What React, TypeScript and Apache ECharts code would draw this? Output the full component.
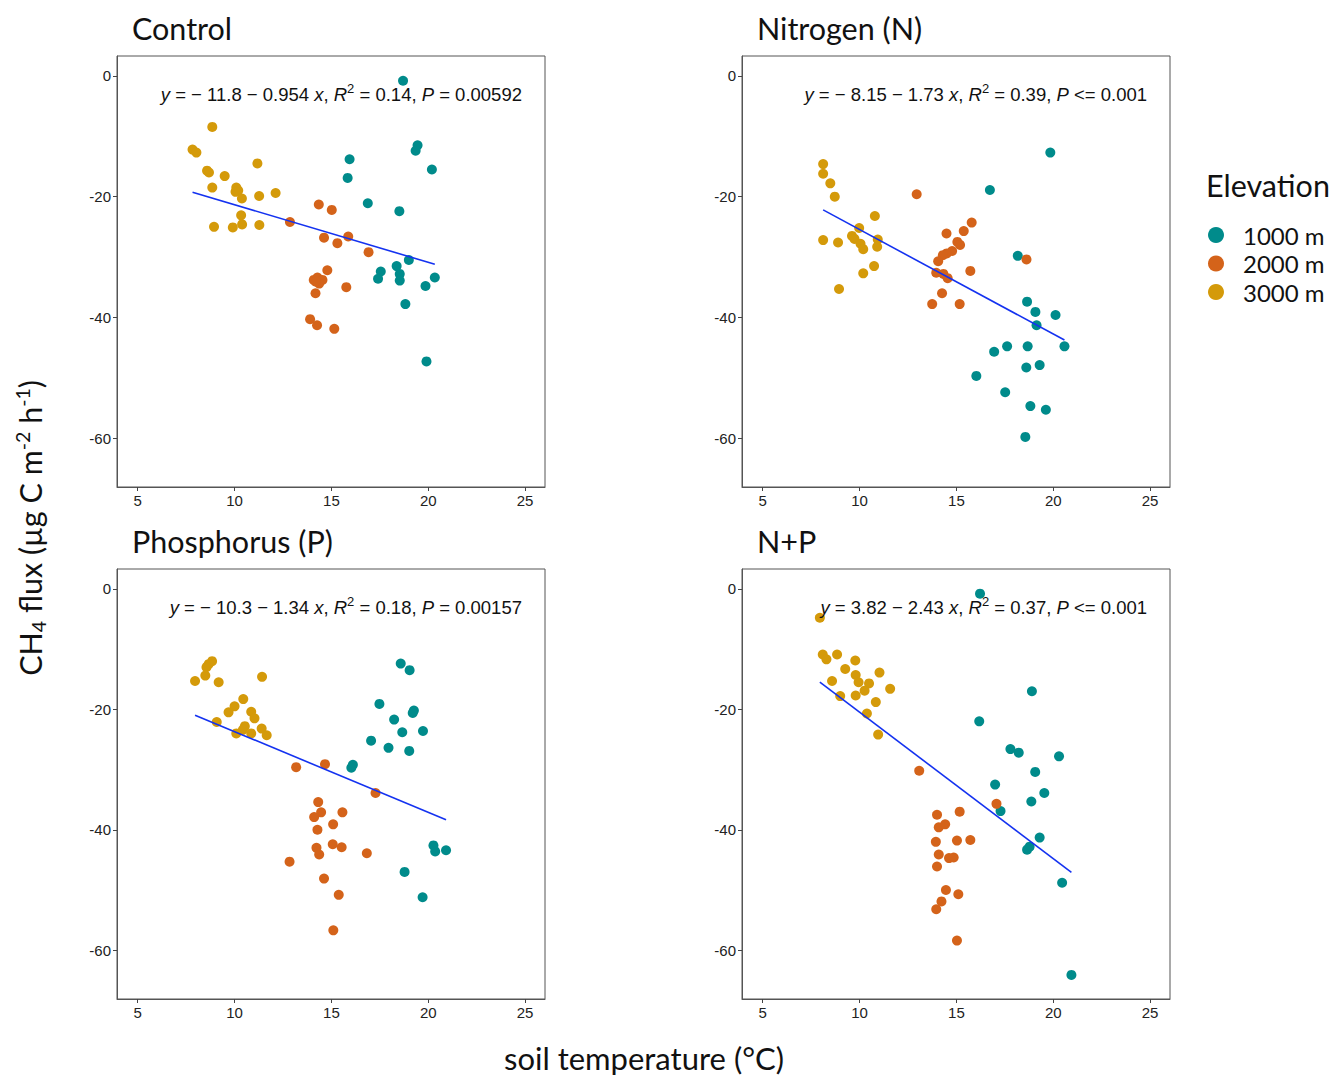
import React, { useEffect, useRef } from "react";
import * as echarts from "echarts";

// ---------- data ----------
const ELEVATIONS = ["1000 m", "2000 m", "3000 m"];
const COLORS = ["#008B8B", "#D4631A", "#D49A0A"];
const X_TICKS = [5, 10, 15, 20, 25];
const Y_TICKS = [0, -20, -40, -60];
const PANEL_TITLES = ["Control", "Nitrogen (N)", "Phosphorus (P)", "N+P"];
const INTERCEPTS = [-11.8, -8.15, -10.3, 3.82];
const SLOPES = [-0.954, -1.73, -1.34, -2.43];
const EQ_COEF_TEXT = ["− 11.8 − 0.954", "− 8.15 − 1.73", "− 10.3 − 1.34", "3.82 − 2.43"];
const R2_TEXT = ["0.14", "0.39", "0.18", "0.37"];
const P_TEXT = ["= 0.00592", "<= 0.001", "= 0.00157", "<= 0.001"];

const control1000 = [[18.7,-0.8],[19.45,-11.5],[19.35,-12.4],[15.94,-13.8],[15.84,-16.9],[20.19,-15.5],[16.88,-21.1],[18.51,-22.4],[19.0,-30.5],[18.37,-31.5],[17.55,-32.4],[17.41,-33.6],[18.53,-32.8],[18.53,-33.9],[20.34,-33.4],[19.86,-34.8],[18.82,-37.8],[19.91,-47.3]];
const control2000 = [[14.35,-21.3],[15.02,-22.2],[12.86,-24.2],[15.87,-26.6],[14.62,-26.8],[15.31,-27.7],[16.92,-29.2],[14.79,-32.2],[14.09,-33.8],[14.28,-33.4],[14.54,-33.8],[14.37,-34.4],[14.2,-34.1],[14.18,-36.0],[15.77,-35.0],[13.9,-40.3],[14.26,-41.3],[15.15,-41.9]];
const control3000 = [[8.85,-8.45],[7.83,-12.2],[8.03,-12.7],[8.58,-15.7],[8.68,-16.0],[9.49,-16.6],[11.18,-14.5],[8.85,-18.5],[10.09,-18.5],[10.19,-19.0],[10.05,-19.2],[10.38,-20.3],[11.27,-19.9],[12.12,-19.4],[10.34,-23.1],[8.94,-25.0],[9.91,-25.1],[10.39,-24.6],[11.28,-24.7]];

const nitrogen1000 = [[19.85,-12.7],[16.73,-18.9],[18.17,-29.8],[18.65,-37.4],[19.08,-39.1],[20.12,-39.6],[19.14,-41.3],[20.58,-44.8],[18.68,-44.8],[17.62,-44.8],[16.95,-45.7],[19.3,-47.9],[18.61,-48.3],[16.03,-49.7],[17.52,-52.4],[18.82,-54.7],[19.62,-55.3],[18.56,-59.8]];
const nitrogen2000 = [[12.95,-19.6],[15.79,-24.3],[15.38,-25.7],[14.49,-26.1],[15.05,-27.5],[15.19,-28.0],[14.78,-29.0],[14.5,-29.4],[14.3,-29.7],[14.06,-30.7],[18.62,-30.4],[13.96,-32.6],[14.33,-32.8],[14.55,-33.5],[15.72,-32.3],[14.26,-36.0],[13.75,-37.8],[15.17,-37.8]];
const nitrogen3000 = [[8.12,-14.6],[8.12,-16.2],[8.49,-17.8],[8.72,-20.0],[10.79,-23.2],[9.98,-25.2],[9.61,-26.5],[9.74,-27.0],[10.05,-27.8],[10.19,-28.7],[10.94,-27.1],[10.91,-28.3],[8.12,-27.2],[8.89,-27.6],[10.75,-31.5],[10.19,-32.7],[8.94,-35.3]];

const phosphorus1000 = [[18.58,-12.4],[19.04,-13.5],[17.48,-19.1],[19.26,-20.2],[19.2,-20.6],[18.24,-21.7],[18.66,-23.8],[19.73,-23.6],[17.05,-25.2],[17.95,-26.4],[19.02,-26.9],[16.11,-29.2],[16.03,-29.7],[20.27,-42.6],[20.36,-43.6],[20.92,-43.4],[18.78,-47.0],[19.71,-51.2]];
const phosphorus2000 = [[13.18,-29.6],[14.67,-29.1],[17.28,-33.9],[14.32,-35.4],[14.47,-37.1],[15.57,-37.1],[14.11,-37.9],[15.09,-39.1],[14.28,-40.0],[15.07,-42.4],[15.53,-42.9],[14.23,-43.0],[14.37,-44.1],[16.83,-43.9],[12.84,-45.3],[14.62,-48.1],[15.38,-50.8],[15.1,-56.7]];
const phosphorus3000 = [[8.84,-12.0],[8.66,-12.5],[8.55,-13.0],[8.49,-14.4],[11.42,-14.6],[7.96,-15.3],[9.18,-15.5],[10.45,-18.3],[10.0,-19.5],[9.69,-20.5],[10.86,-20.4],[11.03,-21.5],[9.08,-22.1],[10.53,-22.8],[10.43,-23.4],[10.09,-24.0],[10.86,-24.0],[11.4,-23.2],[11.66,-24.3]];

const np1000 = [[16.22,-0.8],[18.9,-17.0],[16.18,-22.0],[17.79,-26.6],[18.22,-27.2],[20.3,-27.8],[19.07,-30.4],[17.0,-32.5],[19.54,-33.9],[18.87,-35.3],[17.28,-36.9],[19.3,-41.3],[18.78,-42.8],[18.65,-43.3],[20.46,-48.8],[20.94,-64.1]];
const np2000 = [[13.08,-30.2],[17.07,-35.7],[14.0,-37.5],[15.17,-37.0],[14.09,-39.6],[14.42,-39.1],[13.94,-42.0],[15.03,-41.8],[15.72,-41.7],[14.09,-44.1],[14.62,-44.7],[14.86,-44.6],[14.0,-46.1],[14.46,-50.0],[15.1,-50.7],[14.23,-51.9],[13.96,-53.2],[15.03,-58.4]];
const np3000 = [[7.95,-4.8],[8.1,-10.9],[8.29,-11.7],[8.84,-10.9],[9.78,-11.9],[9.26,-13.3],[9.8,-14.3],[11.03,-13.9],[8.58,-15.3],[9.95,-15.5],[10.49,-15.7],[10.26,-16.9],[11.58,-16.6],[9.0,-17.8],[9.8,-17.7],[10.84,-18.8],[10.38,-20.7],[10.96,-24.2]];

const PANEL_DATA = [
  [control1000, control2000, control3000],
  [nitrogen1000, nitrogen2000, nitrogen3000],
  [phosphorus1000, phosphorus2000, phosphorus3000],
  [np1000, np2000, np3000],
];

// ---------- layout ----------
const GRIDS = [
  { left: 117, top: 56, width: 428, height: 431 },
  { left: 742, top: 56, width: 428, height: 431 },
  { left: 117, top: 569, width: 428, height: 430 },
  { left: 742, top: 569, width: 428, height: 430 },
];
const X_MIN = 3.93, X_MAX = 26.03, Y_MIN = -68.1, Y_MAX = 3.3;
const TITLE_FONT = "Lato";
const NUM_FONT = "Liberation Sans";

function buildOption() {
  const xAxis: any[] = [];
  const yAxis: any[] = [];
  const series: any[] = [];
  const graphic: any[] = [];

  GRIDS.forEach((g, i) => {
    xAxis.push({
      type: "value", gridIndex: i, min: X_MIN, max: X_MAX,
      axisLine: { show: true, onZero: false, lineStyle: { color: "#555", width: 1 } },
      axisTick: { show: true, length: 4, customValues: X_TICKS, lineStyle: { color: "#444" } },
      axisLabel: { customValues: X_TICKS, fontSize: 15, fontFamily: NUM_FONT, color: "#222", margin: 6 },
      splitLine: { show: false },
    });
    yAxis.push({
      type: "value", gridIndex: i, min: Y_MIN, max: Y_MAX,
      axisLine: { show: true, onZero: false, lineStyle: { color: "#555", width: 1 } },
      axisTick: { show: true, length: 4, customValues: Y_TICKS, lineStyle: { color: "#444" } },
      axisLabel: { customValues: Y_TICKS, fontSize: 15, fontFamily: NUM_FONT, color: "#222", margin: 6 },
      splitLine: { show: false },
    });
    const groups = PANEL_DATA[i];
    groups.forEach((pts, j) => {
      series.push({
        name: ELEVATIONS[j], type: "scatter", xAxisIndex: i, yAxisIndex: i,
        data: pts, symbolSize: 10,
        itemStyle: { color: COLORS[j], opacity: 1 },
        z: 2,
      });
    });
    const allX = groups.flat().map((p) => p[0]);
    const x0 = Math.min(...allX), x1 = Math.max(...allX);
    series.push({
      name: "fit", type: "line", xAxisIndex: i, yAxisIndex: i,
      data: [[x0, INTERCEPTS[i] + SLOPES[i] * x0], [x1, INTERCEPTS[i] + SLOPES[i] * x1]],
      symbol: "none", lineStyle: { color: "#1432F0", width: 1.6 }, z: 3, silent: true,
    });

    // panel title
    graphic.push({
      type: "text", x: g.left + 15, y: g.top - 28,
      style: { text: PANEL_TITLES[i], fontSize: 30.5, fontFamily: TITLE_FONT, fill: "#111",
        align: "left", verticalAlign: "middle", textAlign: "left", textVerticalAlign: "middle" },
    });
    // equation
    const eq = `{i|y}{n| = ${EQ_COEF_TEXT[i]} }{i|x}{n|, }{i|R}{s|2}{n| = ${R2_TEXT[i]}, }{i|P}{n| ${P_TEXT[i]}}`;
    graphic.push({
      type: "text", x: g.left + g.width - 23, y: g.top + 38, z: 10,
      style: {
        text: eq, fill: "#111", align: "right", verticalAlign: "middle", textAlign: "right", textVerticalAlign: "middle",
        rich: {
          n: { fontSize: 18.5, fontFamily: NUM_FONT, fill: "#111", lineHeight: 24, verticalAlign: "middle" },
          i: { fontSize: 18.5, fontFamily: NUM_FONT, fontStyle: "italic", fill: "#111", lineHeight: 24, verticalAlign: "middle" },
          s: { fontSize: 13, fontFamily: NUM_FONT, fill: "#111", lineHeight: 11, verticalAlign: "top" },
        },
      },
    });
  });

  // y axis title
  graphic.push({
    type: "text", x: 30, y: 528, rotation: Math.PI / 2,
    style: {
      text: "{a|CH}{b|4}{a| flux (µg C m}{c|-2}{a| h}{c|-1}{a|)}",
      fill: "#111", align: "center", verticalAlign: "middle", textAlign: "center", textVerticalAlign: "middle",
      rich: {
        a: { fontSize: 30.5, fontFamily: TITLE_FONT, fill: "#111", lineHeight: 36, verticalAlign: "middle" },
        b: { fontSize: 19.5, fontFamily: TITLE_FONT, fill: "#111", lineHeight: 17, verticalAlign: "bottom" },
        c: { fontSize: 19.5, fontFamily: TITLE_FONT, fill: "#111", lineHeight: 17, verticalAlign: "top" },
      },
    },
  });
  // x axis title
  graphic.push({
    type: "text", x: 644, y: 1058,
    style: { text: "soil temperature (°C)", fontSize: 31, fontFamily: TITLE_FONT, fill: "#111",
      align: "center", verticalAlign: "middle", textAlign: "center", textVerticalAlign: "middle" },
  });
  // legend title
  graphic.push({
    type: "text", x: 1206, y: 185,
    style: { text: "Elevation", fontSize: 30.5, fontFamily: TITLE_FONT, fill: "#111",
      align: "left", verticalAlign: "middle", textAlign: "left", textVerticalAlign: "middle" },
  });

  return {
    animation: false,
    backgroundColor: "#fff",
    grid: GRIDS.map((g) => ({ ...g, show: true, borderColor: "#555", borderWidth: 1, backgroundColor: "#fff" })),
    xAxis, yAxis, series, graphic,
    legend: {
      data: ELEVATIONS, orient: "vertical", left: 1203, top: 218,
      icon: "circle", itemWidth: 16, itemHeight: 16, itemGap: 4.5,
      textStyle: { fontFamily: TITLE_FONT, fontSize: 24, color: "#111", lineHeight: 24, padding: [0, 0, 0, 14] },
      selectedMode: false,
    },
  };
}

export default function App() {
  const ref = useRef<HTMLDivElement>(null);
  useEffect(() => {
    const chart = echarts.init(ref.current!, null, { renderer: "svg" });
    chart.setOption(buildOption() as any);
    return () => chart.dispose();
  }, []);
  return (
    <div
      ref={ref}
      style={{ position: "absolute", left: 0, top: 0, width: 1334, height: 1078, background: "#fff" }}
    />
  );
}
